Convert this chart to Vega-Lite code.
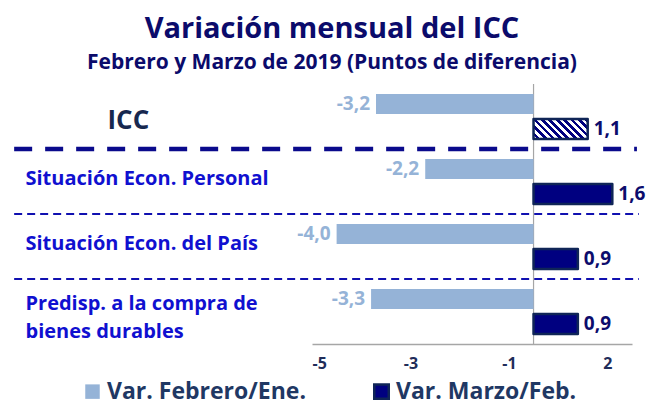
{
  "$schema": "https://vega.github.io/schema/vega-lite/v6.json",
  "width": 320,
  "height": 260,
  "autosize": {"type": "none"},
  "padding": {"left": 312, "top": 84, "right": 28, "bottom": 64},
  "background": "white",
  "config": {
    "font": "Open Sans",
    "view": {"stroke": null},
    "locale": {"number": {"decimal": ",", "thousands": ".", "grouping": [3], "currency": ["", ""], "minus": "-"}}
  },
  "title": {
    "text": "Variación mensual del ICC",
    "subtitle": "Febrero y Marzo de 2019 (Puntos de diferencia)",
    "anchor": "middle",
    "frame": "group",
    "dx": -140,
    "offset": 10,
    "font": "Open Sans",
    "fontSize": 29,
    "fontWeight": "bold",
    "color": "#0B0B6B",
    "subtitleFont": "Open Sans",
    "subtitleFontSize": 21,
    "subtitleFontWeight": "bold",
    "subtitleColor": "#0B0B6B",
    "subtitlePadding": 8
  },
  "datasets": {
    "vals": [
      {"cat": "ICC", "series": "Var. Febrero/Ene.", "v": -3.2},
      {"cat": "ICC", "series": "Var. Marzo/Feb.", "v": 1.1},
      {"cat": "Situación Econ. Personal", "series": "Var. Febrero/Ene.", "v": -2.2},
      {"cat": "Situación Econ. Personal", "series": "Var. Marzo/Feb.", "v": 1.6},
      {"cat": "Situación Econ. del País", "series": "Var. Febrero/Ene.", "v": -4.0},
      {"cat": "Situación Econ. del País", "series": "Var. Marzo/Feb.", "v": 0.9},
      {"cat": "Predisp. a la compra de bienes durables", "series": "Var. Febrero/Ene.", "v": -3.3},
      {"cat": "Predisp. a la compra de bienes durables", "series": "Var. Marzo/Feb.", "v": 0.9}
    ],
    "seps": [
      {"cat": "Situación Econ. Personal", "kind": "thick", "v": -10.55, "v2": 2.1},
      {"cat": "Situación Econ. del País", "kind": "thin", "v": -10.55, "v2": 2.14},
      {"cat": "Predisp. a la compra de bienes durables", "kind": "thin", "v": -10.55, "v2": 2.14}
    ],
    "zero": [{"v": 0}]
  },
  "layer": [
    {
      "data": {"name": "seps"},
      "transform": [{"filter": "datum.kind == 'thick'"}],
      "mark": {"type": "rule", "color": "#0A0A8C", "strokeWidth": 4.5, "strokeDash": [18, 13]},
      "encoding": {
        "x": {"field": "v", "type": "quantitative", "scale": {"domain": [-4.5, 2], "nice": false, "zero": false}},
        "x2": {"field": "v2"},
        "y": {"field": "cat", "type": "nominal", "bandPosition": 0, "sort": null,
              "scale": {"domain": ["ICC", "Situación Econ. Personal", "Situación Econ. del País", "Predisp. a la compra de bienes durables"], "paddingInner": 0, "paddingOuter": 0}}
      }
    },
    {
      "data": {"name": "seps"},
      "transform": [{"filter": "datum.kind == 'thin'"}],
      "mark": {"type": "rule", "color": "#1010B0", "strokeWidth": 2, "strokeDash": [8, 5]},
      "encoding": {
        "x": {"field": "v", "type": "quantitative", "scale": {"domain": [-4.5, 2], "nice": false, "zero": false}},
        "x2": {"field": "v2"},
        "y": {"field": "cat", "type": "nominal", "bandPosition": 0, "sort": null,
              "scale": {"domain": ["ICC", "Situación Econ. Personal", "Situación Econ. del País", "Predisp. a la compra de bienes durables"], "paddingInner": 0, "paddingOuter": 0}}
      }
    },
    {
      "data": {"name": "zero"},
      "mark": {"type": "rule", "color": "#A6A6A6", "strokeWidth": 1.2},
      "encoding": {
        "x": {"field": "v", "type": "quantitative", "scale": {"domain": [-4.5, 2], "nice": false, "zero": false}}
      }
    },
    {
      "data": {"name": "vals"},
      "transform": [{"filter": "datum.series == 'Var. Febrero/Ene.'"}],
      "mark": {"type": "bar"},
      "encoding": {
        "x": {"field": "v", "type": "quantitative",
              "scale": {"domain": [-4.5, 2], "nice": false, "zero": false},
              "axis": {
                "title": null,
                "values": [-4.5, -2.5, -0.5, 1.5],
                "labelExpr": "datum.value == -4.5 ? '-5' : datum.value == -2.5 ? '-3' : datum.value == -0.5 ? '-1' : '2'",
                "grid": false, "ticks": false,
                "domainColor": "#A6A6A6", "domainWidth": 1.5,
                "labelFont": "Open Sans", "labelFontSize": 16, "labelFontWeight": "bold",
                "labelColor": "#1F2D5A", "labelPadding": 11
              }},
        "y": {"field": "cat", "type": "nominal", "sort": null,
              "scale": {"domain": ["ICC", "Situación Econ. Personal", "Situación Econ. del País", "Predisp. a la compra de bienes durables"], "paddingInner": 0, "paddingOuter": 0},
              "axis": {
                "title": null, "domain": false, "ticks": false, "grid": false,
                "labelAlign": "left",
                "labelLimit": 400,
                "labelFont": "Open Sans",
                "labelFontWeight": "bold",
                "labelLineHeight": 28,
                "labelExpr": "datum.value == 'Predisp. a la compra de bienes durables' ? ['Predisp. a la compra de', 'bienes durables'] : datum.value",
                "labelPadding": {"condition": {"test": "datum.value == 'ICC'", "value": 205}, "value": 287},
                "labelFontSize": {"condition": {"test": "datum.value == 'ICC'", "value": 26}, "value": 20},
                "labelColor": {"condition": {"test": "datum.value == 'ICC'", "value": "#17284F"}, "value": "#1010D0"},
                "labelOffset": {"condition": [{"test": "datum.value == 'ICC'", "value": 4}, {"test": "datum.value == 'Predisp. a la compra de bienes durables'", "value": -8}], "value": -3}
              }},
        "yOffset": {"field": "series", "type": "nominal", "sort": ["Var. Febrero/Ene.", "Var. Marzo/Feb."],
                    "scale": {"paddingInner": 0.2, "paddingOuter": 0.4}},
        "color": {"field": "series", "type": "nominal",
                  "scale": {"domain": ["Var. Febrero/Ene.", "Var. Marzo/Feb."], "range": ["#95B3D7", "#000080"]},
                  "legend": {
                    "title": null, "orient": "none", "direction": "horizontal",
                    "legendX": -231, "legendY": 296, "padding": 0,
                    "symbolType": "square", "symbolSize": 210,
                    "labelFont": "Open Sans", "labelFontSize": 23, "labelFontWeight": "bold",
                    "labelColor": "#1F3864", "labelOffset": 3, "columnPadding": 63,
                    "labelLimit": 400,
                    "encode": {"symbols": {"update": {
                      "stroke": {"signal": "datum.value == 'Var. Marzo/Feb.' ? '#0F2557' : 'transparent'"},
                      "strokeWidth": {"value": 2.5}
                    }}}
                  }}
      }
    },
    {
      "data": {"name": "vals"},
      "transform": [{"filter": "datum.series == 'Var. Marzo/Feb.' && datum.cat != 'ICC'"}],
      "mark": {"type": "bar", "stroke": "#0F2557", "strokeWidth": 2.5, "strokeJoin": "round"},
      "encoding": {
        "x": {"field": "v", "type": "quantitative", "scale": {"domain": [-4.5, 2], "nice": false, "zero": false}},
        "y": {"field": "cat", "type": "nominal", "sort": null},
        "yOffset": {"field": "series", "type": "nominal", "sort": ["Var. Febrero/Ene.", "Var. Marzo/Feb."], "scale": {"paddingInner": 0.2, "paddingOuter": 0.4}},
        "color": {"field": "series", "type": "nominal"}
      }
    },
    {
      "data": {"name": "vals"},
      "transform": [{"filter": "datum.series == 'Var. Marzo/Feb.' && datum.cat == 'ICC'"}],
      "mark": {"type": "bar", "stroke": "#0F2557", "strokeWidth": 2.5, "strokeJoin": "round",
        "fill": {"gradient": "linear", "x1": 0, "y1": 1, "x2": 1.205, "y2": 0.554, "stops": [
          {"offset": 0, "color": "#ffffff"}, {"offset": 0.05, "color": "#ffffff"}, {"offset": 0.05, "color": "#000080"}, {"offset": 0.1, "color": "#000080"},
          {"offset": 0.1, "color": "#ffffff"}, {"offset": 0.15, "color": "#ffffff"}, {"offset": 0.15, "color": "#000080"}, {"offset": 0.2, "color": "#000080"},
          {"offset": 0.2, "color": "#ffffff"}, {"offset": 0.25, "color": "#ffffff"}, {"offset": 0.25, "color": "#000080"}, {"offset": 0.3, "color": "#000080"},
          {"offset": 0.3, "color": "#ffffff"}, {"offset": 0.35, "color": "#ffffff"}, {"offset": 0.35, "color": "#000080"}, {"offset": 0.4, "color": "#000080"},
          {"offset": 0.4, "color": "#ffffff"}, {"offset": 0.45, "color": "#ffffff"}, {"offset": 0.45, "color": "#000080"}, {"offset": 0.5, "color": "#000080"},
          {"offset": 0.5, "color": "#ffffff"}, {"offset": 0.55, "color": "#ffffff"}, {"offset": 0.55, "color": "#000080"}, {"offset": 0.6, "color": "#000080"},
          {"offset": 0.6, "color": "#ffffff"}, {"offset": 0.65, "color": "#ffffff"}, {"offset": 0.65, "color": "#000080"}, {"offset": 0.7, "color": "#000080"},
          {"offset": 0.7, "color": "#ffffff"}, {"offset": 0.75, "color": "#ffffff"}, {"offset": 0.75, "color": "#000080"}, {"offset": 0.8, "color": "#000080"},
          {"offset": 0.8, "color": "#ffffff"}, {"offset": 0.85, "color": "#ffffff"}, {"offset": 0.85, "color": "#000080"}, {"offset": 0.9, "color": "#000080"},
          {"offset": 0.9, "color": "#ffffff"}, {"offset": 0.95, "color": "#ffffff"}, {"offset": 0.95, "color": "#000080"}, {"offset": 1, "color": "#000080"}
        ]}},
      "encoding": {
        "x": {"field": "v", "type": "quantitative", "scale": {"domain": [-4.5, 2], "nice": false, "zero": false}},
        "y": {"field": "cat", "type": "nominal", "sort": null},
        "yOffset": {"field": "series", "type": "nominal", "sort": ["Var. Febrero/Ene.", "Var. Marzo/Feb."], "scale": {"paddingInner": 0.2, "paddingOuter": 0.4}}
      }
    },
    {
      "data": {"name": "vals"},
      "transform": [{"filter": "datum.series == 'Var. Febrero/Ene.'"}],
      "mark": {"type": "text", "align": "right", "dx": -6, "font": "Open Sans", "fontSize": 19, "fontWeight": "bold", "color": "#95B3D7"},
      "encoding": {
        "x": {"field": "v", "type": "quantitative", "scale": {"domain": [-4.5, 2], "nice": false, "zero": false}},
        "y": {"field": "cat", "type": "nominal", "sort": null},
        "yOffset": {"field": "series", "type": "nominal", "sort": ["Var. Febrero/Ene.", "Var. Marzo/Feb."], "scale": {"paddingInner": 0.2, "paddingOuter": 0.4}},
        "text": {"field": "v", "type": "quantitative", "format": ".1f"}
      }
    },
    {
      "data": {"name": "vals"},
      "transform": [{"filter": "datum.series == 'Var. Marzo/Feb.'"}],
      "mark": {"type": "text", "align": "left", "dx": 6, "font": "Open Sans", "fontSize": 19, "fontWeight": "bold", "color": "#0C0C6C"},
      "encoding": {
        "x": {"field": "v", "type": "quantitative", "scale": {"domain": [-4.5, 2], "nice": false, "zero": false}},
        "y": {"field": "cat", "type": "nominal", "sort": null},
        "yOffset": {"field": "series", "type": "nominal", "sort": ["Var. Febrero/Ene.", "Var. Marzo/Feb."], "scale": {"paddingInner": 0.2, "paddingOuter": 0.4}},
        "text": {"field": "v", "type": "quantitative", "format": ".1f"}
      }
    }
  ]
}
